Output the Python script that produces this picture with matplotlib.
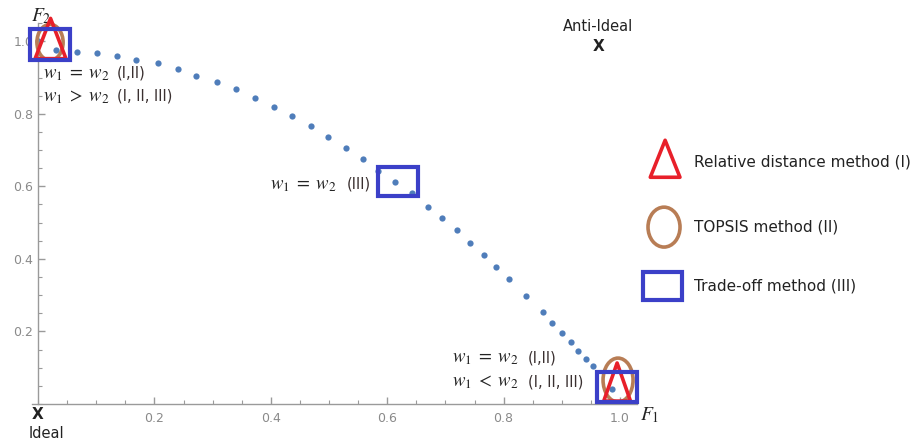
import matplotlib

matplotlib.use("Agg")
import matplotlib.pyplot as plt  # noqa: E402
from matplotlib.patches import Ellipse, Polygon, Rectangle  # noqa: E402
from matplotlib.ticker import MultipleLocator  # noqa: E402

plt.rcParams["mathtext.fontset"] = "stix"

# Pareto front points (F1, F2)
f1 = [0.0, 0.031, 0.067, 0.101, 0.136, 0.168, 0.206, 0.241, 0.271, 0.307,
      0.340, 0.373, 0.405, 0.436, 0.469, 0.498, 0.529, 0.558, 0.584, 0.613,
      0.643, 0.670, 0.694, 0.720, 0.742, 0.766, 0.787, 0.809, 0.838, 0.868,
      0.883, 0.900, 0.916, 0.928, 0.942, 0.954, 0.986]
f2 = [1.0, 0.975, 0.970, 0.967, 0.959, 0.948, 0.939, 0.923, 0.904, 0.887,
      0.868, 0.843, 0.818, 0.793, 0.766, 0.736, 0.705, 0.675, 0.642, 0.612,
      0.581, 0.543, 0.512, 0.479, 0.444, 0.410, 0.377, 0.344, 0.298, 0.253,
      0.223, 0.196, 0.171, 0.146, 0.124, 0.105, 0.041]

tick_vals = [0.2, 0.4, 0.6, 0.8, 1.0]
tick_labels = ["0.2", "0.4", "0.6", "0.8", "1.0"]

legend_labels = ["Relative distance method (I)", "TOPSIS method (II)",
                 "Trade-off method (III)"]

RED = "#e8202a"
BROWN = "#b87d55"
BLUE = "#3b40c8"
DOT = "#4f7dba"
GRAY = "#8a8a8a"
TXT = "#222222"

fig = plt.figure(figsize=(9.15, 4.46), dpi=100, facecolor="white")
ax = fig.add_axes([0.0352, 0.0942, 0.6615, 0.854])
ax.set_xlim(-0.01, 1.03)
ax.set_ylim(0, 1.05)

for s in ["top", "right"]:
    ax.spines[s].set_visible(False)
ax.spines["left"].set_position(("data", 0))
for s in ["left", "bottom"]:
    ax.spines[s].set_color("#9a9a9a")
    ax.spines[s].set_linewidth(1.0)

ax.set_xticks(tick_vals, tick_labels)
ax.set_yticks(tick_vals, tick_labels)
ax.xaxis.set_minor_locator(MultipleLocator(0.05))
ax.yaxis.set_minor_locator(MultipleLocator(0.05))
ax.tick_params(which="both", direction="in", color="#9a9a9a", labelcolor=GRAY,
               labelsize=9)
ax.tick_params(which="major", length=5, width=1)
ax.tick_params(which="minor", length=3, width=0.8)
ax.tick_params(axis="x", pad=6)

ax.plot(f1, f2, "o", color=DOT, markersize=4.5, markeredgewidth=0, zorder=2)


def triangle(x0, x1, y0, y1):
    ax.add_patch(Polygon([(x0, y0), ((x0 + x1) / 2, y1), (x1, y0)], closed=True,
                         fill=False, edgecolor=RED, lw=2.6, joinstyle="round",
                         clip_on=False, zorder=4))


def ellipse(cx, cy, w, h):
    ax.add_patch(Ellipse((cx, cy), w, h, fill=False, edgecolor=BROWN, lw=2.6,
                         clip_on=False, zorder=3))


def box(x0, x1, y0, y1):
    ax.add_patch(Rectangle((x0, y0), x1 - x0, y1 - y0, fill=False,
                           edgecolor=BLUE, lw=3, clip_on=False, zorder=5))


# top-left: both extremes
ellipse(0.0206, 0.997, 0.045, 0.099)
triangle(-0.005, 0.048, 0.952, 1.063)
box(-0.0137, 0.055, 0.947, 1.033)

# middle
box(0.584, 0.653, 0.573, 0.653)

# bottom-right
ellipse(0.9966, 0.066, 0.0515, 0.121)
triangle(0.972, 1.018, 0.008, 0.113)
box(0.9605, 1.029, 0.0055, 0.088)

# legend drawn by hand to the right
triangle(1.052, 1.103, 0.625, 0.727)
ellipse(1.0756, 0.4876, 0.055, 0.11)
box(1.0395, 1.1065, 0.2865, 0.3636)
for y, lab in zip([0.667, 0.4876, 0.325], legend_labels):
    ax.text(1.127, y, lab, fontsize=11, color=TXT, va="center",
            ha="left", clip_on=False)


def note(xm, xs, y, rel, tag):
    ax.text(xm, y, r"$w_1\;%s\;w_2$" % rel, fontsize=13.5, color=TXT,
            va="center", ha="left")
    ax.text(xs, y, tag, fontsize=10.5, color="#3a3030", va="center", ha="left")


note(0.0086, 0.136, 0.912, "=", "(I,II)")
note(0.0086, 0.136, 0.848, ">", "(I, II, III)")
note(0.399, 0.531, 0.606, "=", "(III)")
note(0.711, 0.842, 0.127, "=", "(I,II)")
note(0.711, 0.842, 0.061, "<", "(I, II, III)")

ax.text(0.0, -0.03, "X", fontsize=11, fontweight="bold", color=TXT,
        ha="center", va="center", clip_on=False)
ax.text(-0.016, -0.08, "Ideal", fontsize=10.5, color=TXT,
        ha="left", va="center", clip_on=False)
ax.text(0.963, 1.04, "Anti-Ideal", fontsize=10.5, color=TXT,
        ha="center", va="center", clip_on=False)
ax.text(0.963, 0.985, "X", fontsize=11, fontweight="bold", color=TXT,
        ha="center", va="center", clip_on=False)

ax.text(1.035, -0.03, r"$F_1$", fontsize=14, color=TXT,
        ha="left", va="center", clip_on=False)
ax.text(0.005, 1.07, r"$F_2$", fontsize=14, color=TXT,
        ha="center", va="center", clip_on=False)

fig.savefig("out.png", dpi=100)
